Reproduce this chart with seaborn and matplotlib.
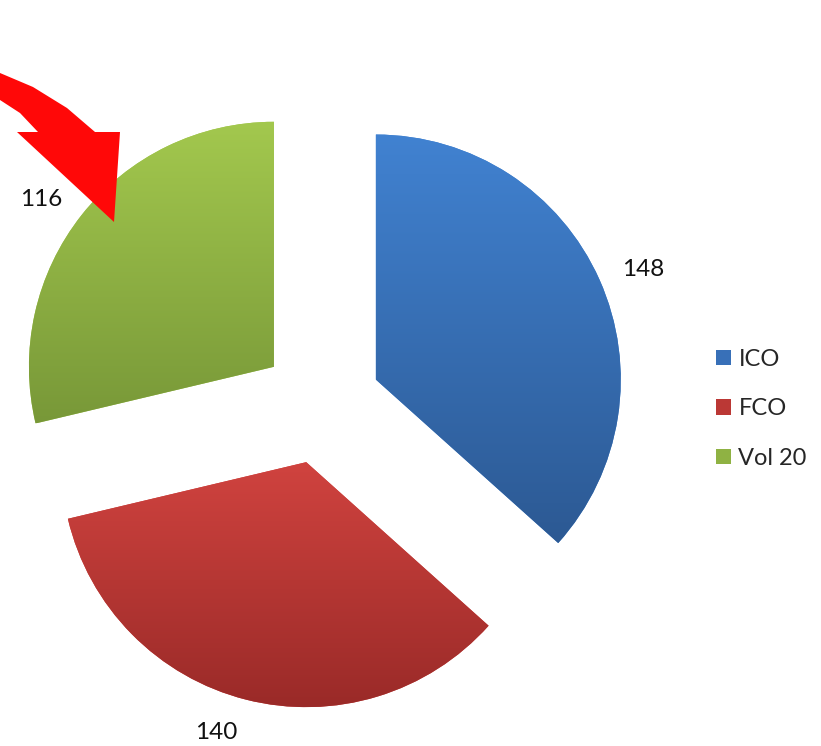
import numpy as np
import matplotlib
matplotlib.use("Agg")
import matplotlib.pyplot as plt
import seaborn as sns
from matplotlib.colors import LinearSegmentedColormap
from matplotlib.patches import Polygon

# Data
categories = ['ICO', 'FCO', 'Vol 20']
values = [148, 140, 116]
top_colors = ['#4182d1', '#d0433f', '#a3c84e']
bottom_colors = ['#2c5993', '#9a2a28', '#789838']
mid_colors = ['#3870b8', '#bb3835', '#8fb243']

sns.set_theme(style='white')
plt.rcParams['font.family'] = ['Lato', 'DejaVu Sans']

fig = plt.figure(figsize=(8.21, 7.46), dpi=100)
ax = fig.add_axes([0, 0, 1, 1])

# pie drawn in pixel-like units
R = 245
wedges, texts = ax.pie(values, labels=[str(v) for v in values],
                       startangle=90, counterclock=False,
                       center=(321, 342), radius=R,
                       explode=[60, 60, 60], labeldistance=1.1,
                       textprops={'fontsize': 17.5, 'color': '#111111'},
                       wedgeprops={'linewidth': 0})

# vertical gradient on every slice
grad = np.linspace(0, 1, 256).reshape(-1, 1)
for w, c1, c2 in zip(wedges, top_colors, bottom_colors):
    w.set_facecolor(c1)
    bb = w.get_path().get_extents(w.get_patch_transform())
    cmap = LinearSegmentedColormap.from_list('g', [c2, c1])
    im = ax.imshow(grad, cmap=cmap, origin='lower', aspect='auto',
                   extent=[bb.x0, bb.x1, bb.y0, bb.y1], zorder=2)
    im.set_clip_path(w)

# value labels: align away from each slice's own centre
label_dist = [1.1, 1.14, 1.1]
for w, t, d in zip(wedges, texts, label_dist):
    theta = np.deg2rad((w.theta1 + w.theta2) / 2)
    cx, cy = w.center
    t.set_position((cx + d * R * np.cos(theta), cy + d * R * np.sin(theta)))
    t.set_ha('left' if np.cos(theta) > 0 else 'right')
    t.set_zorder(3)

# red arrow pointing at the green slice
H = 746
arrow = [(-5, 70), (0, 73), (33, 87), (67, 108), (95, 132), (120, 132),
         (114, 222), (17, 132), (38, 132), (20, 113), (0, 100), (-5, 97)]
ax.add_patch(Polygon([(x, H - y) for x, y in arrow], closed=True,
                     facecolor='#ff0808', edgecolor='none', zorder=4))

leg = ax.legend(wedges, categories, loc='center left',
                bbox_to_anchor=(0.858, 0.452), frameon=False, fontsize=17,
                handlelength=0.64, handleheight=0.64, handletextpad=0.3,
                labelspacing=1.2, borderpad=0)
for h, c in zip(leg.legend_handles, mid_colors):
    h.set_facecolor(c)

ax.set_xlim(0, 821)
ax.set_ylim(0, 746)
ax.set_aspect('equal')
ax.axis('off')

fig.savefig('out.png', dpi=100)
